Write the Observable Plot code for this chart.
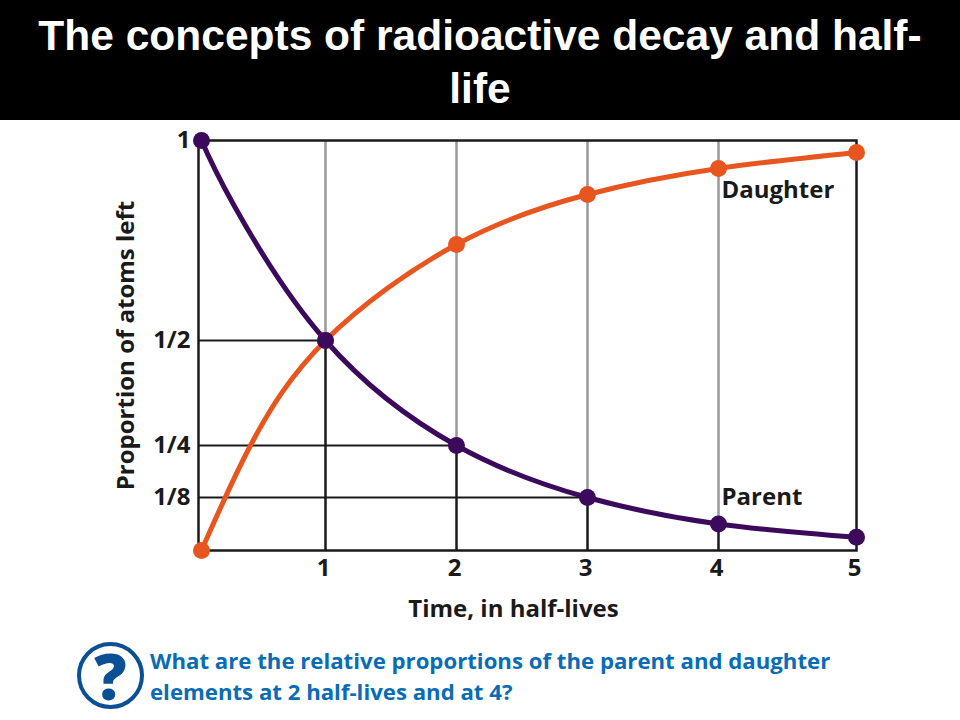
<!DOCTYPE html>
<html>
<head>
<meta charset="utf-8">
<script src="https://cdn.jsdelivr.net/npm/d3@7"></script>
<script src="https://cdn.jsdelivr.net/npm/@observablehq/plot@0.6"></script>
<style>
  html, body { margin: 0; padding: 0; background: #fff; }
  #page { position: relative; width: 960px; height: 720px; overflow: hidden; }
  #title { background: #000; color: #fff; height: 120px; box-sizing: border-box; padding: 9px 0 0;
    font: bold 42.5px/53px "Liberation Sans", Arial, sans-serif; text-align: center; white-space: nowrap; }
  #chart svg { display: block; }
  #icon { position: absolute; left: 77px; top: 642px; width: 59px; height: 59px; border: 4px solid #0b4f94;
    border-radius: 50%; color: #0b4f94; text-align: center; font: 800 64px/60px "Open Sans", sans-serif; }
  #question { position: absolute; left: 150px; top: 645px; width: 720px; color: #0a6cb4;
    font: bold 22.2px/31px "Open Sans", sans-serif; }
</style>
</head>
<body>
<div id="page">
  <div id="title">The concepts of radioactive decay and half-<br>life</div>
  <div id="chart"></div>
  <div id="icon">?</div>
  <div id="question">What are the relative proportions of the parent and daughter<br>elements at 2 half-lives and at 4?</div>
</div>
<script>
// Marked readings at each half-life
const halfLives = [0, 1, 2, 3, 4, 5];
const parentValues = [1, 0.5, 0.25, 0.125, 0.0625, 0.031];
const daughterValues = [0, 0.5, 0.74, 0.865, 0.93, 0.97];
// Curve readings, with one extra reading before the first half-life
const parentCurveT = [0, 0.258, 1, 2, 3, 4, 5];
const parentCurveV = [1, 0.84, 0.5, 0.25, 0.125, 0.0625, 0.031];
const daughterCurveT = [0, 0.395, 1, 2, 3, 4, 5];
const daughterCurveV = [0, 0.25, 0.5, 0.74, 0.865, 0.93, 0.97];
const xTicks = [1, 2, 3, 4, 5];
const yTicks = [1, 0.5, 0.25, 0.125];
const yTickLabels = ["1", "1/2", "1/4", "1/8"];
const guideEnds = [0.5, 0.25, 0.125, 0.0625];
const parentColor = "#3c0a5c";
const daughterColor = "#e8561f";
const ink = "#1a1a1a";
const labelFont = {fontFamily: "'Open Sans', sans-serif", fontWeight: 700, fill: ink, fontSize: 24};

const parent = halfLives.map((t, i) => ({t, v: parentValues[i]}));
const daughter = halfLives.map((t, i) => ({t, v: daughterValues[i]}));
const parentCurve = parentCurveT.map((t, i) => ({t, v: parentCurveV[i]}));
const daughterCurve = daughterCurveT.map((t, i) => ({t, v: daughterCurveV[i]}));
const guides = guideEnds.map((v, i) => ({t: i + 1, v}));

const chart = Plot.plot({
  width: 960,
  height: 520,
  marginLeft: 198,
  marginRight: 104,
  marginTop: 20,
  marginBottom: 90,
  style: {background: "#fff"},
  x: {axis: null, type: "linear", domain: [-0.024, 0, 1, 2, 3, 4, 5], range: [198, 201, 325, 456, 587, 718, 856]},
  y: {axis: null, type: "linear", domain: [0, 0.125, 0.25, 0.5, 1], range: [430, 377, 325, 220, 20]},
  marks: [
    Plot.ruleX(guides, {x: "t", y1: 1, y2: "v", stroke: "#999", strokeWidth: 2.5}),
    Plot.ruleX(guides, {x: "t", y1: 0, y2: "v", stroke: ink, strokeWidth: 2.5}),
    Plot.ruleY(guides.slice(0, 3), {y: "v", x1: -0.024, x2: "t", stroke: ink, strokeWidth: 2}),
    Plot.frame({stroke: ink, strokeWidth: 2.5}),
    Plot.line(parentCurve, {x: "t", y: "v", curve: "natural", stroke: parentColor, strokeWidth: 5}),
    Plot.line(daughterCurve, {x: "t", y: "v", curve: "natural", stroke: daughterColor, strokeWidth: 5}),
    Plot.dot(daughter, {x: "t", y: "v", r: 8.5, fill: daughterColor}),
    Plot.dot(parent, {x: "t", y: "v", r: 8.5, fill: parentColor}),
    Plot.text(xTicks, {x: d => d, frameAnchor: "bottom", dy: 25, dx: -2, text: d => String(d), ...labelFont}),
    Plot.text(yTicks, {y: d => d, frameAnchor: "left", dx: -8, textAnchor: "end", text: (d, i) => yTickLabels[i], ...labelFont}),
    Plot.text(["Proportion of atoms left"], {frameAnchor: "left", dx: -72, rotate: -90, textAnchor: "middle", ...labelFont}),
    Plot.text(["Time, in half-lives"], {frameAnchor: "bottom", dx: -14, dy: 66, textAnchor: "middle", ...labelFont}),
    Plot.text(["Daughter"], {x: () => 4, y: () => 0.875, dx: 3, textAnchor: "start", ...labelFont}),
    Plot.text(["Parent"], {x: () => 4, y: () => 0.125, dx: 3, textAnchor: "start", ...labelFont})
  ]
});
document.getElementById("chart").appendChild(chart);
</script>
</body>
</html>
